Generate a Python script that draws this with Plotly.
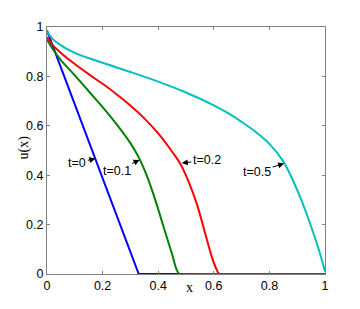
import plotly.graph_objects as go

# ---- data ----
x_t0 = [0.0, 0.330, 1.0]
u_t0 = [0.985, 0.0, 0.0]

x_t01 = [0.0, 0.02, 0.05, 0.10, 0.15, 0.20, 0.25, 0.30, 0.33, 0.36, 0.39, 0.42, 0.45, 0.465, 0.476, 0.50, 1.0]
u_t01 = [0.950, 0.912, 0.866, 0.804, 0.740, 0.676, 0.607, 0.530, 0.472, 0.395, 0.298, 0.188, 0.080, 0.022, 0.0, 0.0, 0.0]

x_t02 = [0.0, 0.02, 0.05, 0.10, 0.15, 0.20, 0.25, 0.30, 0.35, 0.40, 0.45, 0.48, 0.51, 0.54, 0.57, 0.595, 0.61, 0.62, 0.65, 1.0]
u_t02 = [0.959, 0.928, 0.895, 0.850, 0.809, 0.770, 0.728, 0.682, 0.630, 0.569, 0.495, 0.445, 0.372, 0.280, 0.160, 0.062, 0.018, 0.0, 0.0, 0.0]

x_t05 = [0.0, 0.02, 0.042, 0.10, 0.20, 0.30, 0.40, 0.50, 0.60, 0.65, 0.70, 0.75, 0.80, 0.85, 0.90, 0.93, 0.96, 0.98, 0.99, 1.0]
u_t05 = [0.981, 0.952, 0.932, 0.895, 0.855, 0.818, 0.779, 0.735, 0.683, 0.652, 0.616, 0.576, 0.527, 0.456, 0.340, 0.255, 0.160, 0.090, 0.052, 0.010]

series = [
    ("t=0", x_t0, u_t0, "#0000ff", "linear"),
    ("t=0.1", x_t01, u_t01, "#008000", "spline"),
    ("t=0.2", x_t02, u_t02, "#ff0000", "spline"),
    ("t=0.5", x_t05, u_t05, "#00bfbf", "spline"),
]

# label text, arrow head (data coords)
labels = ["t=0", "t=0.1", "t=0.2", "t=0.5"]
label_x = [0.174, 0.333, 0.485, 0.853]
label_u = [0.467, 0.462, 0.449, 0.447]

tick_vals = [0, 0.2, 0.4, 0.6, 0.8, 1]
tick_text = ["0", "0.2", "0.4", "0.6", "0.8", "1"]

fig = go.Figure()
for name, xs, us, col, shape in series:
    fig.add_trace(go.Scatter(x=xs, y=us, mode="lines", name=name,
                             line=dict(color=col, width=2, shape=shape, smoothing=1.0),
                             showlegend=False))

offsets = [(-18, 4), (-23, 11), (25, -3), (-27, 8)]
for txt, hx, hu, (ax, ay) in zip(labels, label_x, label_u, offsets):
    fig.add_annotation(x=hx, y=hu, xref="x", yref="y", text=txt, showarrow=True,
                       ax=ax, ay=ay, arrowhead=2, arrowsize=1.2, arrowwidth=1,
                       arrowcolor="black", standoff=0, startstandoff=0,
                       font=dict(family="Liberation Sans, Arial", size=12.5, color="black"))

fig.add_annotation(x=0.511, y=-0.095, xref="paper", yref="paper", text="x", showarrow=False,
                   font=dict(family="Liberation Serif, Times New Roman", size=14, color="black"))
fig.add_annotation(x=-0.118, y=0.513, xref="paper", yref="paper", text="u(x)", showarrow=False,
                   textangle=-90,
                   font=dict(family="Liberation Serif, Times New Roman", size=14, color="black"))

axis_common = dict(range=[0, 1], showline=True, linecolor="#808080", linewidth=1, mirror="ticks",
                   ticks="inside", ticklen=3, tickcolor="#808080", showgrid=False, zeroline=False,
                   tickvals=tick_vals, ticktext=tick_text,
                   tickfont=dict(family="Liberation Sans, Arial", size=12.5, color="black"))
fig.update_xaxes(**axis_common)
fig.update_yaxes(**axis_common)

fig.update_layout(width=352, height=301, margin=dict(l=39, r=35, t=14, b=35),
                  plot_bgcolor="white", paper_bgcolor="white")

fig.write_html("out.html")
